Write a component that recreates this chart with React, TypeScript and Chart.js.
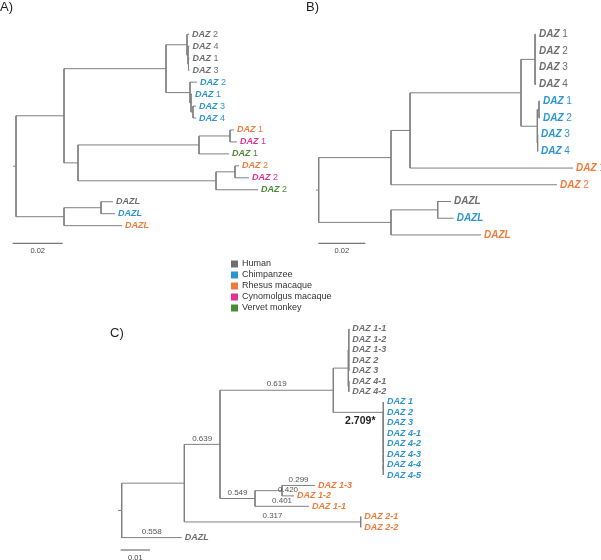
import React, { useEffect, useRef } from 'react';
import { Chart, registerables } from 'chart.js';

Chart.register(...registerables);

// ---------------- DATA ----------------
// Trees in Newick form: name:branchLength#branchLabel
const treeA =
  '(((' +
  '(DAZ 2:0.0008,(DAZ 4:0.0006,(DAZ 1:0.0004,DAZ 3:0.0004):0.0002):0.0004):0.0084,' +
  '(DAZ 2:0.0028,(DAZ 1:0.0004,(DAZ 3:0.0012,DAZ 4:0.0012):0.0008):0.0004):0.0096' +
  '):0.0408,' +
  '(((DAZ 1:0.0016,DAZ 1:0.0028):0.0124,DAZ 1:0.012):0.0484,((DAZ 2:0.0016,DAZ 2:0.0056):0.0076,DAZ 2:0.0168):0.0552):0.0056' +
  '):0.0192,' +
  '((DAZL:0.0048,DAZL:0.0056):0.0148,DAZL:0.0232):0.0192' +
  ');';
const speciesA = ['H', 'H', 'H', 'H', 'C', 'C', 'C', 'C', 'R', 'Y', 'V', 'R', 'Y', 'V', 'H', 'C', 'R'];

const treeB =
  '(((((DAZ 1:0.00043,DAZ 2:0.00043,DAZ 3:0.00043,DAZ 4:0.00043):0.00596,' +
  '((DAZ 1:0.00043,DAZ 2:0.00043):0.00072,(DAZ 3:0.00017,DAZ 4:0.00017):0.00013):0.00694' +
  '):0.04723,DAZ 1:0.06936):0.00809,DAZ 2:0.07064):0.03077,' +
  '((DAZL:0.00566,DAZL:0.00681):0.01987,DAZL:0.0383):0.03077);';
const speciesB = ['H', 'H', 'H', 'H', 'C', 'C', 'C', 'C', 'R', 'R', 'H', 'C', 'R'];

const treeC =
  '(((((' +
  '(DAZ 1-1:0.00017,DAZ 1-2:0.00017,DAZ 1-3:0.00017,DAZ 2:0.00017,DAZ 3:0.00017):0.00017,' +
  '(DAZ 4-1:0.00017,DAZ 4-2:0.00017):0.00017' +
  '):0.00512,' +
  '(DAZ 1:0.00024,(DAZ 2:0.00024,(DAZ 3:0.00024,(DAZ 4-1:0.00024,(DAZ 4-2:0.00024,(DAZ 4-3:0.00024,(DAZ 4-4:0.00024,DAZ 4-5:0.00024):0):0):0):0):0):0)' +
  ':0.01706#2.709*):0.03867#0.619,' +
  '((DAZ 1-3:0.01126#0.299,DAZ 1-2:0.0041#0.420):0.00922,DAZ 1-1:0.01843#0.401)' +
  ':0.01195#0.549):0.01218#0.639,' +
  '(DAZ 2-1:0.00017,DAZ 2-2:0.00017)' +
  ':0.0602#0.317):0.02137,DAZL:0.02048#0.558);';
const speciesC = [
  'H', 'H', 'H', 'H', 'H', 'H', 'H',
  'C', 'C', 'C', 'C', 'C', 'C', 'C', 'C',
  'R', 'R', 'R', 'R', 'R',
  'H',
];

const legendKeys = ['H', 'C', 'R', 'Y', 'V'];
const legendLabels = ['Human', 'Chimpanzee', 'Rhesus macaque', 'Cynomolgus macaque', 'Vervet monkey'];
const scaleBarValues = [0.02, 0.02, 0.01];
const scaleBarLabels = ['0.02', '0.02', '0.01'];
const panelLetters = ['A)', 'B)', 'C)'];

// ---------------- STYLE / LAYOUT ----------------
const W = 601;
const H = 560;
const FONT = '"Liberation Sans", Arial, Helvetica, sans-serif';
const COLORS: Record<string, string> = {
  H: '#6d6e71',
  C: '#2b95d2',
  R: '#f07a3a',
  Y: '#e6318f',
  V: '#4b8a36',
};
const LINE_COLOR = '#808080';

const PANELS = [
  { id: 'A', tree: treeA, species: speciesA, ox: 16, kx: 2500, oy: 34.3, ky: 11.96, stubPx: 3, barStartPx: 12.7, barYPx: 243.3, font: 9, split: true, letterX: 0, letterY: 7 },
  { id: 'B', tree: treeB, species: speciesB, ox: 318.7, kx: 2350, oy: 34.3, ky: 16.72, stubPx: 2.7, barStartPx: 318.3, barYPx: 243.3, font: 10, split: true, letterX: 306, letterY: 7 },
  { id: 'C', tree: treeC, species: speciesC, ox: 121.7, kx: 2930, oy: 329, ky: 10.43, stubPx: 3.7, barStartPx: 120.7, barYPx: 550, font: 9, split: false, letterX: 110, letterY: 333 },
];
const LEGEND = { x: 231, y: 264, step: 11, box: 7, textX: 242, font: 9 };

// ---------------- TREE HELPERS ----------------
type TNode = { name: string; len: number; label: string; children: TNode[]; x: number; y: number; parent?: TNode };

function parseNewick(s: string): TNode {
  let i = 0;
  function node(): TNode {
    const n: TNode = { name: '', len: 0, label: '', children: [], x: 0, y: 0 };
    if (s[i] === '(') {
      i++;
      n.children.push(node());
      while (s[i] === ',') {
        i++;
        n.children.push(node());
      }
      i++; // ')'
    }
    let name = '';
    while (i < s.length && !':,();#'.includes(s[i])) name += s[i++];
    n.name = name.trim();
    if (s[i] === ':') {
      i++;
      let v = '';
      while (i < s.length && !',();#'.includes(s[i])) v += s[i++];
      n.len = parseFloat(v);
    }
    if (s[i] === '#') {
      i++;
      let l = '';
      while (i < s.length && !',();'.includes(s[i])) l += s[i++];
      n.label = l;
    }
    return n;
  }
  return node();
}

function layoutTree(src: string) {
  const root = parseNewick(src);
  const leaves: TNode[] = [];
  const nodes: TNode[] = [];
  let idx = 0;
  const walk = (n: TNode, x: number) => {
    n.x = x;
    nodes.push(n);
    if (!n.children.length) {
      n.y = idx++;
      leaves.push(n);
    } else {
      n.children.forEach((c) => {
        c.parent = n;
        walk(c, x + c.len);
      });
      n.y = (n.children[0].y + n.children[n.children.length - 1].y) / 2;
    }
  };
  walk(root, 0);
  return { root, leaves, nodes };
}

const layouts = PANELS.map((p) => layoutTree(p.tree));

export default function App() {
  const ref = useRef<HTMLCanvasElement | null>(null);

  useEffect(() => {
    if (!ref.current) return;
    const datasets: any[] = [];
    const scales: any = {};

    PANELS.forEach((p, pi) => {
      const { root, nodes } = layouts[pi];
      const pts: any[] = [];
      const seg = (x1: number, y1: number, x2: number, y2: number) => {
        pts.push({ x: x1, y: y1 }, { x: x2, y: y2 }, { x: x2, y: null });
      };
      seg(-p.stubPx / p.kx, root.y, 0, root.y);
      nodes.forEach((n) => {
        if (n.parent) seg(n.parent.x, n.y, n.x, n.y);
        if (n.children.length) seg(n.x, n.children[0].y, n.x, n.children[n.children.length - 1].y);
      });
      datasets.push({
        data: pts,
        xAxisID: 'x' + p.id,
        yAxisID: 'y' + p.id,
        borderColor: LINE_COLOR,
        borderWidth: 1,
        pointRadius: 0,
        fill: false,
        tension: 0,
        spanGaps: false,
      });
      const b0 = (p.barStartPx - p.ox) / p.kx;
      const by = (p.barYPx - p.oy) / p.ky;
      datasets.push({
        data: [
          { x: b0, y: by },
          { x: b0 + scaleBarValues[pi], y: by },
        ],
        xAxisID: 'x' + p.id,
        yAxisID: 'y' + p.id,
        borderColor: '#555555',
        borderWidth: 1,
        pointRadius: 0,
        fill: false,
      });
      scales['x' + p.id] = {
        type: 'linear', axis: 'x', display: false, bounds: 'data', grace: 0,
        min: -p.ox / p.kx, max: (W - p.ox) / p.kx,
      };
      scales['y' + p.id] = {
        type: 'linear', axis: 'y', display: false, bounds: 'data', grace: 0, reverse: true,
        min: -p.oy / p.ky, max: (H - p.oy) / p.ky,
      };
    });

    const textPlugin = {
      id: 'treeText',
      afterDatasetsDraw(chart: any) {
        const ctx = chart.ctx as CanvasRenderingContext2D;
        ctx.save();
        ctx.textBaseline = 'middle';
        PANELS.forEach((p, pi) => {
          const xs = chart.scales['x' + p.id];
          const ys = chart.scales['y' + p.id];
          const { leaves, nodes } = layouts[pi];
          // leaf labels
          leaves.forEach((lf, li) => {
            const px = xs.getPixelForValue(lf.x) + 3;
            const py = ys.getPixelForValue(lf.y);
            ctx.fillStyle = COLORS[p.species[li]];
            ctx.textAlign = 'left';
            const m = lf.name.match(/^(DAZL?)(.*)$/);
            if (p.split && m) {
              ctx.font = `italic bold ${p.font}px ${FONT}`;
              ctx.fillText(m[1], px, py);
              const w = ctx.measureText(m[1]).width;
              ctx.font = `${p.font}px ${FONT}`;
              ctx.fillText(m[2], px + w, py);
            } else {
              ctx.font = `italic bold ${p.font}px ${FONT}`;
              ctx.fillText(lf.name, px, py);
            }
          });
          // branch labels
          nodes.forEach((n) => {
            if (!n.label || !n.parent) return;
            const x1 = xs.getPixelForValue(n.parent.x);
            const x2 = xs.getPixelForValue(n.x);
            const py = ys.getPixelForValue(n.y);
            ctx.textAlign = 'center';
            if (n.label.endsWith('*')) {
              ctx.font = `bold 10.5px ${FONT}`;
              ctx.fillStyle = '#222222';
              ctx.fillText(n.label, (x1 + x2) / 2 + 2, py + 8.5);
            } else {
              ctx.font = `8px ${FONT}`;
              ctx.fillStyle = '#555555';
              ctx.fillText(n.label, (x1 + x2) / 2, py - 6);
            }
          });
          // scale bar label
          const b0 = (p.barStartPx - p.ox) / p.kx;
          const bx = (xs.getPixelForValue(b0) + xs.getPixelForValue(b0 + scaleBarValues[pi])) / 2;
          ctx.font = `7.5px ${FONT}`;
          ctx.fillStyle = '#444444';
          ctx.textAlign = 'center';
          ctx.fillText(scaleBarLabels[pi], bx, p.barYPx + 7.5);
          // panel letter
          ctx.font = `13px ${FONT}`;
          ctx.fillStyle = '#222222';
          ctx.textAlign = 'left';
          ctx.fillText(panelLetters[pi], p.letterX, p.letterY);
        });
        // legend
        legendKeys.forEach((k, i) => {
          const cy = LEGEND.y + i * LEGEND.step;
          ctx.fillStyle = COLORS[k];
          ctx.fillRect(LEGEND.x, cy - LEGEND.box / 2, LEGEND.box, LEGEND.box);
          ctx.fillStyle = '#333333';
          ctx.font = `${LEGEND.font}px ${FONT}`;
          ctx.textAlign = 'left';
          ctx.fillText(legendLabels[i], LEGEND.textX, cy);
        });
        ctx.restore();
      },
    };

    const chart = new Chart(ref.current, {
      type: 'line',
      data: { datasets },
      options: {
        animation: false,
        responsive: false,
        maintainAspectRatio: false,
        events: [],
        layout: { padding: 0 },
        plugins: { legend: { display: false }, tooltip: { enabled: false } },
        scales,
      },
      plugins: [textPlugin],
    } as any);
    return () => chart.destroy();
  }, []);

  return (
    <div style={{ position: 'absolute', left: 0, top: 0, width: W, height: H, background: '#ffffff' }}>
      <canvas ref={ref} width={W} height={H} style={{ display: 'block', width: W, height: H }} />
    </div>
  );
}
